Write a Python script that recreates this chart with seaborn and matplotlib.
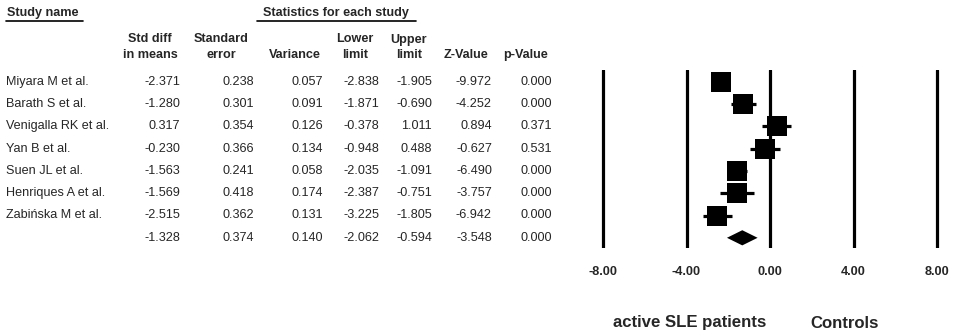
import numpy as np
import pandas as pd
import matplotlib.pyplot as plt
import seaborn as sns

# dados do forest plot
studies = ['Miyara M et al.', 'Barath S et al.', 'Venigalla RK et al.', 'Yan B et al.',
           'Suen JL et al.', 'Henriques A et al.', 'Zabińska M et al.']
std_diff = [-2.371, -1.280, 0.317, -0.230, -1.563, -1.569, -2.515]
std_err = [0.238, 0.301, 0.354, 0.366, 0.241, 0.418, 0.362]
variance = [0.057, 0.091, 0.126, 0.134, 0.058, 0.174, 0.131]
lower = [-2.838, -1.871, -0.378, -0.948, -2.035, -2.387, -3.225]
upper = [-1.905, -0.690, 1.011, 0.488, -1.091, -0.751, -1.805]
z_value = [-9.972, -4.252, 0.894, -0.627, -6.490, -3.757, -6.942]
p_value = [0.000, 0.000, 0.371, 0.531, 0.000, 0.000, 0.000]

# efeito combinado
summary = {'std_diff': -1.328, 'std_err': 0.374, 'variance': 0.140,
           'lower': -2.062, 'upper': -0.594, 'z_value': -3.548, 'p_value': 0.000}

x_ticks = [-8, -4, 0, 4, 8]
left_label = 'active SLE patients'
right_label = 'Controls'

sns.set_style('white')
plt.rcParams['font.family'] = ['Liberation Sans', 'DejaVu Sans']

W, H = 957, 333
fig = plt.figure(figsize=(W / 100, H / 100), dpi=100)
fig.patch.set_facecolor('white')

# eixo de fundo em pixels para a tabela
tab = fig.add_axes([0, 0, 1, 1])
tab.set_xlim(0, W)
tab.set_ylim(H, 0)
tab.axis('off')

fs = 9.1
row_y0, row_dy = 81.7, 22.3

# cabeçalhos
tab.text(7, 13, 'Study name', fontsize=fs, fontweight='bold', va='center', ha='left')
tab.plot([6, 83], [20.7, 20.7], color='black', lw=1.2)
tab.text(263, 13, 'Statistics for each study', fontsize=fs, fontweight='bold', va='center', ha='left')
tab.plot([257, 416], [20.7, 20.7], color='black', lw=1.2)

headers = [(150, 'Std diff', 'in means'), (221, 'Standard', 'error'), (295, '', 'Variance'),
           (355, 'Lower', 'limit'), (409, 'Upper', 'limit'), (466, '', 'Z-Value'), (526, '', 'p-Value')]
for hx, l1, l2 in headers:
    if l1:
        tab.text(hx, 39.5, l1, fontsize=fs, fontweight='bold', ha='center', va='center')
    tab.text(hx, 55, l2, fontsize=fs, fontweight='bold', ha='center', va='center')

# colunas de valores (borda direita)
col_right = [180, 254, 323, 379, 432, 492, 552]
cols = [std_diff, std_err, variance, lower, upper, z_value, p_value]
for i, name in enumerate(studies):
    y = row_y0 + i * row_dy
    tab.text(6, y, name, fontsize=fs, ha='left', va='center')
    for xr, col in zip(col_right, cols):
        tab.text(xr, y, f'{col[i]:.3f}', fontsize=fs, ha='right', va='center')

ys = row_y0 + len(studies) * row_dy
keys = ['std_diff', 'std_err', 'variance', 'lower', 'upper', 'z_value', 'p_value']
for xr, k in zip(col_right, keys):
    tab.text(xr, ys, f'{summary[k]:.3f}', fontsize=fs, ha='right', va='center')

# eixo do forest plot
px_per_unit = (937 - 603) / 16
xmin, xmax = -9, 9
ax_left = 603 - (8 + xmin) * -px_per_unit
ax_w = (xmax - xmin) * px_per_unit
ymin_d, ymax_d = -0.52, 7.46
ax_top = row_y0 + ymin_d * row_dy
ax_bot = row_y0 + ymax_d * row_dy
ax = fig.add_axes([ax_left / W, 1 - ax_bot / H, ax_w / W, (ax_bot - ax_top) / H])
ax.set_xlim(xmin, xmax)
ax.set_ylim(ymax_d, ymin_d)
ax.patch.set_alpha(0)
for s in ax.spines.values():
    s.set_visible(False)

for t in x_ticks:
    ax.axvline(t, color='black', lw=2.3)

df = pd.DataFrame({'study': studies, 'effect': std_diff, 'lower': lower,
                   'upper': upper, 'row': np.arange(len(studies))})
ax.hlines(df['row'], df['lower'], df['upper'], color='black', lw=2.3)
sns.scatterplot(data=df, x='effect', y='row', marker='s', s=195, color='black',
                linewidth=0, legend=False, ax=ax, zorder=3)

r = len(studies)
hh = 0.34
ax.fill([summary['lower'], summary['std_diff'], summary['upper'], summary['std_diff']],
        [r, r - hh, r, r + hh], color='black', lw=0)

ax.set_xticks(x_ticks)
ax.set_xticklabels([f'{t:.2f}' for t in x_ticks], fontsize=fs, fontweight='bold')
ax.tick_params(axis='x', length=0, pad=13)
ax.set_yticks([])
ax.set_xlabel('')
ax.set_ylabel('')

tab.text(690, 323, left_label, fontsize=12.1, fontweight='bold', ha='center', va='center')
tab.text(845, 323, right_label, fontsize=12.1, fontweight='bold', ha='center', va='center')

fig.savefig('out.png', dpi=100, facecolor='white')
